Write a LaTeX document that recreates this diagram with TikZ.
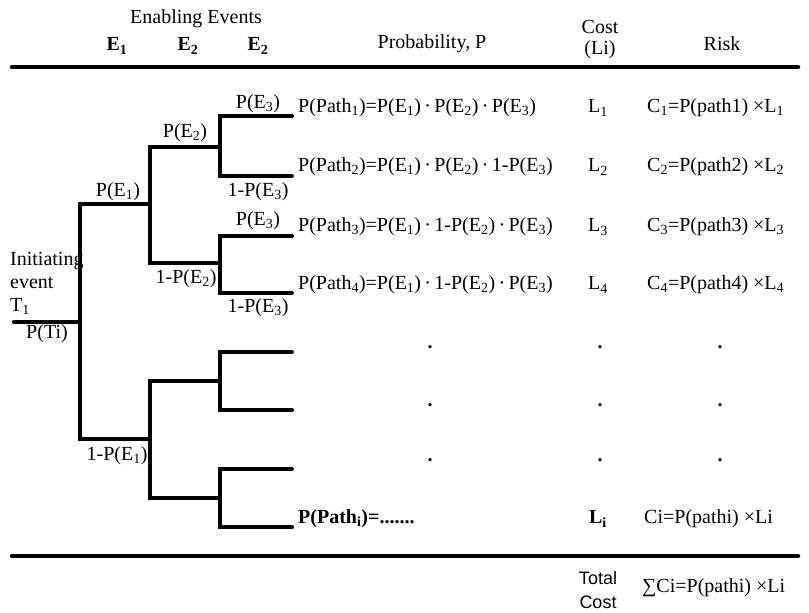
\documentclass[tikz,border=0pt]{standalone}
\usepackage{fontspec}
\setmainfont{Liberation Serif}
\setsansfont{Liberation Sans}
\newcommand{\sbs}[1]{\textsubscript{#1}}
\newcommand{\md}{\,·\,}
\begin{document}
\begin{tikzpicture}[x=1pt,y=-1pt,
  txt/.style={inner sep=0pt,font=\fontsize{20}{23}\selectfont},
  btxt/.style={inner sep=0pt,font=\fontsize{20}{23}\selectfont\bfseries},
  rule/.style={line width=4.5pt,line cap=round},
  branch/.style={line width=4pt,line cap=round,line join=miter}]
\useasboundingbox (0,0) rectangle (809,613);
% header
\node[txt] (enab) at (196,19) {Enabling Events};
\node[btxt] (h1) at (117,46) {E\sbs{1}};
\node[btxt] (h2) at (188,46) {E\sbs{2}};
\node[btxt] (h3) at (258,46) {E\sbs{2}};
\node[txt] (hprob) at (432,44) {Probability, P};
\node[txt] (hcost) at (600,27) {Cost};
\node[txt] (hli) at (600,50) {(Li)};
\node[txt] (hrisk) at (722,44) {Risk};
\coordinate (t1) at (12,67); \coordinate (t2) at (798,67);
\coordinate (b1) at (12,556); \coordinate (b2) at (798,556);
\draw[rule] (t1) -- (t2);
\draw[rule] (b1) -- (b2);
% tree coordinates
\coordinate (r0) at (14,322);
\coordinate (r1) at (80,322);
\coordinate (a1) at (80,204); \coordinate (a2) at (80,439);
\coordinate (b1u) at (150,204); \coordinate (b1l) at (150,439);
\coordinate (c1) at (150,147); \coordinate (c2) at (150,263);
\coordinate (c3) at (150,381); \coordinate (c4) at (150,498);
\coordinate (d1) at (220,147); \coordinate (d2) at (220,263);
\coordinate (d3) at (220,381); \coordinate (d4) at (220,498);
\coordinate (e1) at (220,116); \coordinate (e2) at (220,176);
\coordinate (e3) at (220,236); \coordinate (e4) at (220,293);
\coordinate (e5) at (220,352); \coordinate (e6) at (220,410);
\coordinate (e7) at (220,469); \coordinate (e8) at (220,527);
\coordinate (f1) at (292,116); \coordinate (f2) at (292,176);
\coordinate (f3) at (292,236); \coordinate (f4) at (292,293);
\coordinate (f5) at (292,352); \coordinate (f6) at (292,410);
\coordinate (f7) at (292,469); \coordinate (f8) at (292,527);
\draw[branch] (r0) -- (r1);
\draw[branch] (b1u) -- (a1) -- (a2) -- (b1l);
\draw[branch] (d1) -- (c1) -- (c2) -- (d2);
\draw[branch] (d3) -- (c3) -- (c4) -- (d4);
\draw[branch] (f1) -- (e1) -- (e2) -- (f2);
\draw[branch] (f3) -- (e3) -- (e4) -- (f4);
\draw[branch] (f5) -- (e5) -- (e6) -- (f6);
\draw[branch] (f7) -- (e7) -- (e8) -- (f8);
% tree labels
\node[txt,anchor=west,align=left] (init) at (10,283) {Initiating\\event\\T\sbs{1}};
\node[txt] (pti) at (47,334) {P(Ti)};
\node[txt] (lpe1) at (118,192) {P(E\sbs{1})};
\node[txt] (lnpe1) at (117,456) {1-P(E\sbs{1})};
\node[txt] (lpe2) at (185,133) {P(E\sbs{2})};
\node[txt] (lnpe2) at (186,279) {1-P(E\sbs{2})};
\node[txt] (lpe3a) at (258,104) {P(E\sbs{3})};
\node[txt] (lnpe3a) at (258,192) {1-P(E\sbs{3})};
\node[txt] (lpe3b) at (258,221) {P(E\sbs{3})};
\node[txt] (lnpe3b) at (258,308) {1-P(E\sbs{3})};
% rows
\node[txt,anchor=west] (p1) at (298,108) {P(Path\sbs{1})=P(E\sbs{1})\md P(E\sbs{2})\md P(E\sbs{3})};
\node[txt,anchor=west] (p2) at (298,167) {P(Path\sbs{2})=P(E\sbs{1})\md P(E\sbs{2})\md 1-P(E\sbs{3})};
\node[txt,anchor=west] (p3) at (298,227) {P(Path\sbs{3})=P(E\sbs{1})\md 1-P(E\sbs{2})\md P(E\sbs{3})};
\node[txt,anchor=west] (p4) at (298,285) {P(Path\sbs{4})=P(E\sbs{1})\md 1-P(E\sbs{2})\md P(E\sbs{3})};
\node[btxt,anchor=west] (pi) at (298,519) {P(Path\sbs{i})=.......};
\node[txt] (l1) at (598,108) {L\sbs{1}};
\node[txt] (l2) at (598,167) {L\sbs{2}};
\node[txt] (l3) at (598,227) {L\sbs{3}};
\node[txt] (l4) at (598,285) {L\sbs{4}};
\node[btxt] (li) at (598,519) {L\sbs{i}};
\node[txt,anchor=west] (c1t) at (647,108) {C\sbs{1}=P(path1) ×L\sbs{1}};
\node[txt,anchor=west] (c2t) at (647,167) {C\sbs{2}=P(path2) ×L\sbs{2}};
\node[txt,anchor=west] (c3t) at (647,227) {C\sbs{3}=P(path3) ×L\sbs{3}};
\node[txt,anchor=west] (c4t) at (647,285) {C\sbs{4}=P(path4) ×L\sbs{4}};
\node[txt,anchor=west] (cit) at (644,519) {Ci=P(pathi) ×Li};
% dots
\foreach \yy [count=\k] in {347,405,460} {
  \node[btxt] (dp\k) at (430,\yy) {.};
  \node[btxt] (dl\k) at (600,\yy) {.};
  \node[btxt] (dr\k) at (720,\yy) {.};
}
% totals
\node[txt,font=\fontsize{18}{24}\selectfont\sffamily,align=center] (tot) at (598,590) {Total\\Cost};
\node[txt,anchor=west] (sum) at (642,588) {∑Ci=P(pathi) ×Li};
\end{tikzpicture}
\end{document}
